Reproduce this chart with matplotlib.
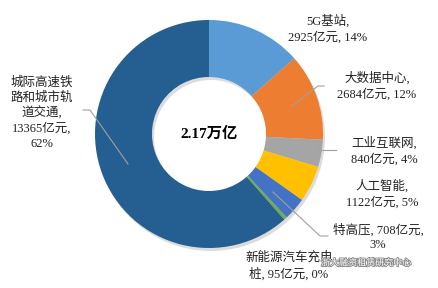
import matplotlib
matplotlib.use('Agg')
import matplotlib.pyplot as plt
import matplotlib.patheffects as pe

plt.rcParams['font.family'] = ['Liberation Serif', 'Noto Sans CJK SC', 'DejaVu Sans']

names = ['5G基站', '大数据中心', '工业互联网', '人工智能', '特高压', '新能源汽车充电桩', '城际高速铁路和城市轨道交通']
values = [2925, 2684, 840, 1122, 708, 95, 13365]
colors = ['#5B9BD5', '#ED7D31', '#A5A5A5', '#FFC000', '#4472C4', '#70AD47', '#255E91']
labels = ['5G基站,\n2925亿元, 14%',
          '大数据中心,\n2684亿元, 12%',
          '工业互联网,\n840亿元, 4%',
          '人工智能,\n1122亿元, 5%',
          '特高压, 708亿元,\n3%',
          '新能源汽车充电\n桩, 95亿元, 0%',
          '城际高速铁\n路和城市轨\n道交通,\n13365亿元,\n62%']
total_text = '2.17万亿'

fig = plt.figure(figsize=(4.38, 2.88), dpi=100)
ax = fig.add_axes([0, 0, 1, 1])

cx, cy, R = 209, 288 - 134, 114

# soft shadow under the ring
ax.pie([1], radius=R, center=(cx + 2, cy - 3), colors=['#dcdcdc'],
       wedgeprops=dict(width=R * 0.5, linewidth=0), frame=True)
ax.pie(values, radius=R, center=(cx, cy), colors=colors, startangle=90,
       counterclock=False, wedgeprops=dict(width=R * 0.5, linewidth=0), frame=True)
ax.set_xlim(0, 438)
ax.set_ylim(0, 288)
ax.set_aspect('equal')
ax.axis('off')

ax.text(cx, cy, total_text, ha='center', va='center', fontsize=11, fontweight='bold')

# label positions (pixels, top-left origin)
pos = [(328, 29), (377, 86), (384, 151), (382, 194), (378, 237), (289, 266), (42, 113)]
for (x, y), lab in zip(pos, labels):
    ax.text(x, 288 - y, lab, ha='center', va='center', fontsize=9,
            linespacing=1.3, color='#222222')

# leader lines
lines = [
    [(292, 106), (318, 86), (324, 86)],
    [(318, 150), (336, 150)],
    [(273, 192), (320, 236), (328, 236)],
    [(83, 110), (90, 110), (128, 164)],
]
for pts in lines:
    ax.plot([p[0] for p in pts], [288 - p[1] for p in pts], color='#a0a0a0', lw=0.8)

ax.text(366, 288 - 263, '浙大融资租赁研究中心', ha='center', va='center', fontsize=6.5,
        family=['Noto Sans CJK SC'], color='white',
        path_effects=[pe.withStroke(linewidth=1.3, foreground='#8a8a8a')])

fig.savefig('out.png', dpi=100)
